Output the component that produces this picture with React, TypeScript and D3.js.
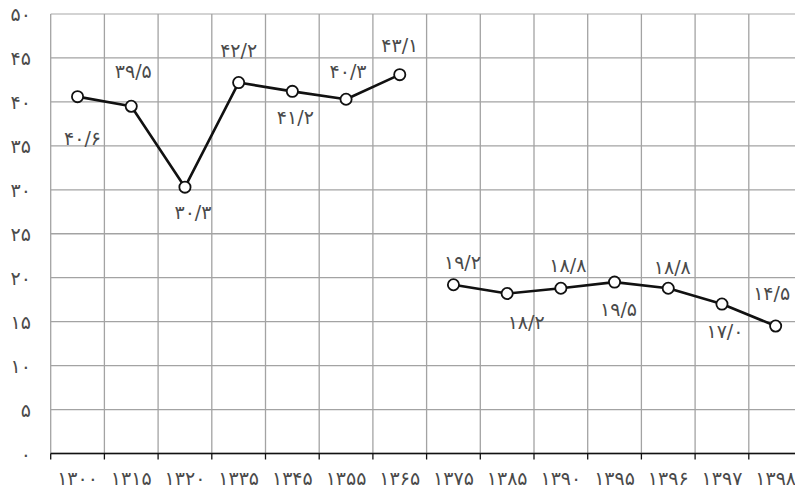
import React from "react";
import * as d3 from "d3";

const categories = ["۱۳۰۰", "۱۳۱۵", "۱۳۲۰", "۱۳۳۵", "۱۳۴۵", "۱۳۵۵", "۱۳۶۵", "۱۳۷۵", "۱۳۸۵", "۱۳۹۰", "۱۳۹۵", "۱۳۹۶", "۱۳۹۷", "۱۳۹۸"];
const series1Categories = ["۱۳۰۰", "۱۳۱۵", "۱۳۲۰", "۱۳۳۵", "۱۳۴۵", "۱۳۵۵", "۱۳۶۵"];
const series1Values = [40.6, 39.5, 30.3, 42.2, 41.2, 40.3, 43.1];
const series2Categories = ["۱۳۷۵", "۱۳۸۵", "۱۳۹۰", "۱۳۹۵", "۱۳۹۶", "۱۳۹۷", "۱۳۹۸"];
const series2Values = [19.2, 18.2, 18.8, 19.5, 18.8, 17.0, 14.5];
const yTicks = [0, 5, 10, 15, 20, 25, 30, 35, 40, 45, 50];

// label placement (layout only)
const series1LabelOffsets: [number, number][] = [[5, 41], [2, -35], [8, 25], [0, -33], [3, 26], [2, -28], [0, -30]];
const series2LabelOffsets: [number, number][] = [[9, -23], [19, 28], [7, -23], [4, 27], [4, -21], [3, 27], [-4, -33]];

const faDigits = "۰۱۲۳۴۵۶۷۸۹";
const toFa = (s: string) => s.replace(/[0-9]/g, (d) => faDigits[+d]);
const fmtValue = (v: number) => toFa(v.toFixed(1)).replace(".", "/");

const W = 795;
const H = 491;
const left = 50.7;
const step = 53.7;
const top = 14;
const bottom = 453.5;
const FONT = "'DejaVu Sans', sans-serif";
const TEXT = "#4a4a4a";
const FS = 19;

export default function App() {
  const x = d3.scaleBand<string>().domain(categories).range([left, left + step * categories.length]).padding(0);
  const y = d3.scaleLinear().domain([0, 50]).range([bottom, top]);
  const cx = (c: string) => (x(c) as number) + x.bandwidth() / 2;

  const line = d3
    .line<[string, number]>()
    .x((d) => cx(d[0]))
    .y((d) => y(d[1]));

  const s1 = series1Categories.map((c, i) => [c, series1Values[i]] as [string, number]);
  const s2 = series2Categories.map((c, i) => [c, series2Values[i]] as [string, number]);

  const gridX = categories.map((c) => x(c) as number);

  const renderSeries = (data: [string, number][], offsets: [number, number][], key: string) => (
    <g key={key}>
      <path d={line(data) || ""} fill="none" stroke="#111" strokeWidth={2.6} strokeLinejoin="round" />
      {data.map((d, i) => (
        <circle key={i} cx={cx(d[0])} cy={y(d[1])} r={5.6} fill="#fff" stroke="#111" strokeWidth={1.8} />
      ))}
      {data.map((d, i) => (
        <text
          key={"t" + i}
          x={cx(d[0]) + offsets[i][0]}
          y={y(d[1]) + offsets[i][1]}
          textAnchor="middle"
          dominantBaseline="central"
          fontFamily={FONT}
          fontSize={FS}
          fill={TEXT}
        >
          {fmtValue(d[1])}
        </text>
      ))}
    </g>
  );

  return (
    <svg width={W} height={H} style={{ position: "absolute", left: 0, top: 0, background: "#fff" }}>
      <rect x={0} y={0} width={W} height={H} fill="#fff" />
      {yTicks.map((t) => (
        <line key={"h" + t} x1={left} x2={W} y1={y(t)} y2={y(t)} stroke={t === 50 ? "#c4c4c4" : "#a3a3a3"} strokeWidth={1.3} />
      ))}
      {gridX.map((gx, i) => (
        <line key={"v" + i} x1={gx} x2={gx} y1={top} y2={bottom} stroke="#a3a3a3" strokeWidth={1.3} />
      ))}
      <line x1={left} x2={W} y1={bottom} y2={bottom} stroke="#111" strokeWidth={1.6} />
      {gridX.map((gx, i) => (
        <line key={"tk" + i} x1={gx} x2={gx} y1={bottom} y2={bottom + 6} stroke="#111" strokeWidth={1.3} />
      ))}
      {categories.map((c) => (
        <text key={"xl" + c} x={cx(c)} y={478} textAnchor="middle" dominantBaseline="central" fontFamily={FONT} fontSize={FS} fill={TEXT}>
          {c}
        </text>
      ))}
      {yTicks.map((t) => (
        <text key={"yl" + t} x={31} y={y(t)} textAnchor="end" dominantBaseline="central" fontFamily={FONT} fontSize={FS} fill={TEXT}>
          {toFa(String(t))}
        </text>
      ))}
      {renderSeries(s1, series1LabelOffsets, "s1")}
      {renderSeries(s2, series2LabelOffsets, "s2")}
    </svg>
  );
}
